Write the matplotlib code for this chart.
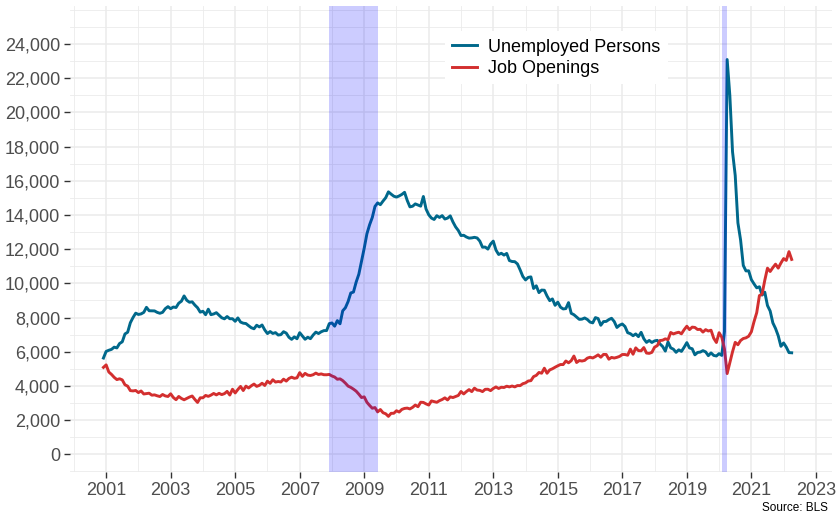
import numpy as np
import matplotlib
matplotlib.use("Agg")
import matplotlib.pyplot as plt
from matplotlib.ticker import MultipleLocator, FuncFormatter

# monthly series, thousands, Dec 2000 .. Apr 2022
start_year = 2000 + 11 / 12

unemployed = [
    5634,
    6023, 6089, 6141, 6271, 6226, 6484, 6583, 7042, 7142, 7694, 8003, 8258,
    8182, 8215, 8304, 8599, 8399, 8393, 8390, 8304, 8251, 8307, 8520, 8640,
    8520, 8618, 8588, 8842, 8957, 9266, 9011, 8896, 8921, 8732, 8576, 8317,
    8370, 8167, 8491, 8170, 8212, 8286, 8136, 7990, 7927, 8061, 7932, 7934,
    7784, 7980, 7737, 7672, 7651, 7524, 7406, 7345, 7553, 7453, 7566, 7279,
    7064, 7184, 7072, 7120, 6980, 7001, 7175, 7091, 6847, 6727, 6872, 6762,
    7116, 6927, 6731, 6850, 6766, 6979, 7149, 7067, 7170, 7237, 7240, 7645,
    7685, 7497, 7822, 7637, 8395, 8575, 8937, 9438, 9494, 10074, 10538, 11286,
    12058, 12898, 13426, 13853, 14499, 14707, 14601, 14814, 15009, 15352, 15219, 15098,
    15046, 15113, 15202, 15325, 14849, 14474, 14512, 14648, 14579, 14516, 15081, 14348,
    14013, 13820, 13737, 13957, 13855, 13962, 13763, 13818, 13948, 13594, 13302, 13093,
    12797, 12813, 12713, 12646, 12660, 12692, 12656, 12471, 12115, 12124, 12005, 12298,
    12471, 11950, 11689, 11760, 11654, 11751, 11335, 11279, 11270, 11136, 10787, 10404,
    10202, 10349, 10380, 9702, 9859, 9460, 9608, 9599, 9262, 8990, 9090, 8717,
    8903, 8610, 8504, 8526, 8875, 8249, 8167, 8029, 7896, 7909, 7977, 7888,
    7736, 7690, 7999, 7942, 7551, 7765, 7776, 7883, 7959, 7768, 7422, 7554,
    7625, 7476, 7116, 7058, 6939, 7043, 6886, 7137, 6764, 6548, 6663, 6544,
    6636, 6669, 6460, 6309, 6039, 6575, 6231, 6152, 5969, 6114, 6022, 6266,
    6535, 6224, 6176, 5824, 5960, 5984, 6066, 5993, 5773, 5934, 5787, 5753,
    5892, 5787, 7185, 23090, 20985, 17697, 16308, 13542, 12535, 11049, 10728, 10736,
    10220, 9969, 9740, 9800, 9316, 9484, 8702, 8384, 7691, 7362, 6936, 6319,
    6516, 6270, 5952, 5941,
]

job_openings = [
    5088,
    5234, 4816, 4676, 4504, 4374, 4422, 4355, 4070, 3991, 3730, 3712, 3737,
    3613, 3708, 3532, 3553, 3578, 3462, 3480, 3426, 3383, 3503, 3419, 3386,
    3542, 3326, 3198, 3388, 3271, 3193, 3275, 3352, 3414, 3214, 3037, 3308,
    3310, 3447, 3393, 3467, 3563, 3480, 3570, 3496, 3553, 3683, 3470, 3810,
    3592, 3795, 3974, 3734, 3990, 3884, 4011, 4112, 3977, 4037, 4161, 4030,
    4281, 4155, 4364, 4230, 4261, 4234, 4398, 4286, 4441, 4514, 4448, 4477,
    4779, 4565, 4737, 4636, 4613, 4658, 4752, 4672, 4705, 4658, 4656, 4676,
    4584, 4523, 4394, 4417, 4315, 4166, 3993, 3918, 3815, 3697, 3520, 3324,
    3364, 3047, 2863, 2699, 2738, 2485, 2624, 2436, 2374, 2224, 2401, 2403,
    2552, 2476, 2630, 2688, 2706, 2659, 2751, 2886, 2787, 3050, 3038, 2953,
    2885, 3126, 3088, 3046, 3141, 3209, 3306, 3184, 3364, 3323, 3388, 3448,
    3677, 3535, 3673, 3788, 3670, 3874, 3760, 3743, 3671, 3804, 3810, 3728,
    3855, 3944, 3855, 3926, 3911, 3987, 3946, 3998, 3946, 4024, 4020, 4133,
    4181, 4291, 4312, 4548, 4620, 4790, 4747, 5040, 4745, 4939, 5006, 5097,
    5180, 5255, 5252, 5461, 5355, 5478, 5751, 5373, 5488, 5459, 5496, 5629,
    5681, 5637, 5720, 5821, 5681, 5845, 5842, 5567, 5670, 5634, 5675, 5732,
    5841, 5840, 5798, 6154, 5856, 6229, 6068, 6056, 6245, 5926, 5907, 5965,
    6269, 6355, 6658, 6677, 6757, 6705, 7128, 7044, 7102, 7143, 7050, 7292,
    7494, 7297, 7442, 7423, 7302, 7315, 7151, 7294, 7214, 7261, 6793, 6542,
    7116, 6853, 6159, 4726, 5371, 6000, 6552, 6412, 6659, 6775, 6816, 6909,
    7169, 7766, 8288, 9286, 9373, 10185, 10890, 10695, 10923, 11123, 10892, 11192,
    11448, 11344, 11855, 11400,
]

# recessions (decimal years)
rec_start = [2007 + 11 / 12, 2020 + 1 / 12]
rec_end = [2009 + 5 / 12, 2020 + 3 / 12]

plt.rcParams['font.family'] = ['Liberation Sans', 'DejaVu Sans']

x = start_year + np.arange(len(unemployed)) / 12

fig = plt.figure(figsize=(8.38, 5.16), dpi=100)
ax = fig.add_axes([70 / 838, 44 / 516, 762 / 838, 466 / 516])

ax.plot(x, unemployed, color="#00688B", lw=2.1, label="Unemployed Persons", zorder=3)
ax.plot(x, job_openings, color="#D32F2F", lw=2.1, label="Job Openings", zorder=3)

for s, e in zip(rec_start, rec_end):
    ax.axvspan(s, e, color="blue", alpha=0.2, lw=0, zorder=4)

ax.set_xlim(1999.88, 2023.5)
ax.set_ylim(-1030, 26220)

ax.set_xticks(np.arange(2001, 2024, 2))
ax.set_yticks(np.arange(0, 24001, 2000))
ax.yaxis.set_major_formatter(FuncFormatter(lambda v, p: f"{int(v):,}"))
# years in between and half steps as minor lines
ax.set_xticks(np.arange(2000, 2024, 1), minor=True)
ax.set_yticks(np.arange(-1000, 26001, 1000), minor=True)

ax.grid(which="major", color="#EBEBEB", lw=1.1, zorder=0)
ax.grid(which="minor", color="#EBEBEB", lw=0.6, zorder=0)
ax.tick_params(which="minor", length=0)
ax.tick_params(which="major", length=4, width=1, color="#333333",
               labelsize=13, labelcolor="#4D4D4D", pad=3)
for sp in ax.spines.values():
    sp.set_visible(False)
ax.set_axisbelow(True)

leg = ax.legend(loc="upper left", bbox_to_anchor=(0.48, 0.965), frameon=True,
                fontsize=13, handlelength=1.4, handletextpad=0.6,
                labelspacing=0.25, borderpad=0.4)
leg.get_frame().set_edgecolor("none")
leg.get_frame().set_facecolor("white")
leg.get_frame().set_alpha(1)

fig.text(828 / 838, 2 / 516, "Source: BLS", ha="right", va="bottom",
         fontsize=8.5, color="black")

fig.savefig("out.png", dpi=100)
